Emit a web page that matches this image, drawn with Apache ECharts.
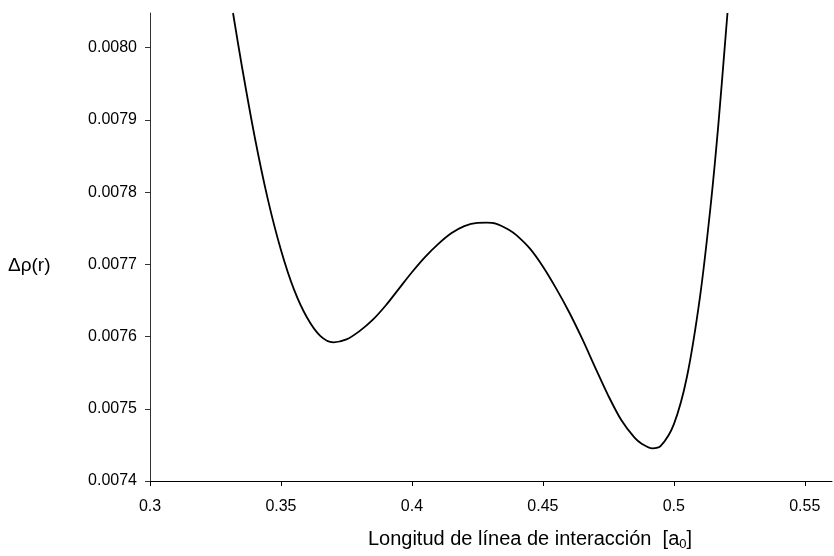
<!DOCTYPE html>
<html>
<head>
<meta charset="utf-8">
<script src="https://cdn.jsdelivr.net/npm/echarts@6/dist/echarts.min.js"></script>
<style>
html,body{margin:0;padding:0;background:#fff;}
#c{width:834px;height:556px;}
</style>
</head>
<body>
<div id="c"></div>
<script>
// Interaction-line length [a0]
const xValues = [0.3317, 0.335, 0.340, 0.345, 0.350, 0.355, 0.360, 0.365, 0.370, 0.375, 0.380, 0.385, 0.390, 0.395,
  0.400, 0.405, 0.410, 0.415, 0.420, 0.425, 0.4285, 0.432, 0.437, 0.440, 0.445, 0.450, 0.455, 0.460, 0.465, 0.470,
  0.475, 0.480, 0.485, 0.488, 0.4918, 0.495, 0.500, 0.505, 0.510, 0.514, 0.517, 0.520, 0.5205];
// Δρ(r)
const yValues = [0.008048, 0.007976, 0.007876, 0.007790, 0.007720, 0.007665, 0.007626, 0.007601, 0.007592, 0.007596, 0.0076075, 0.007623, 0.007643, 0.007666,
  0.007689, 0.007710, 0.007728, 0.007743, 0.007753, 0.0077575, 0.0077578, 0.0077565, 0.007748, 0.007740, 0.007722, 0.007697, 0.007667, 0.007634, 0.007597, 0.007557,
  0.007518, 0.007484, 0.007460, 0.007451, 0.0074452, 0.0074485, 0.0074785, 0.007544, 0.007655, 0.007779, 0.007893, 0.008026, 0.008048];
const xTickLabels = ['0.3', '0.35', '0.4', '0.45', '0.5', '0.55'];
const yTickLabels = ['0.0074', '0.0075', '0.0076', '0.0077', '0.0078', '0.0079', '0.0080'];

const FONT = '"Liberation Sans", Arial, sans-serif';
const points = xValues.map((x, i) => [x, yValues[i]]);

const chart = echarts.init(document.getElementById('c'), null, {renderer: 'canvas'});
chart.setOption({
  animation: false,
  backgroundColor: '#ffffff',
  grid: {left: 150, right: 2, top: 13, bottom: 74, containLabel: false},
  xAxis: {
    type: 'value',
    min: 0.3, max: 0.5604, interval: 0.05,
    splitLine: {show: false},
    axisLine: {show: true, onZero: false, lineStyle: {color: '#000', width: 1}},
    axisTick: {show: true, inside: false, length: 5, lineStyle: {color: '#000'}},
    axisLabel: {
      margin: 18, color: '#000', fontFamily: FONT, fontSize: 16,
      showMaxLabel: false,
      formatter: function (v) {
        const idx = Math.round((v - 0.3) / 0.05);
        return Math.abs(v - (0.3 + idx * 0.05)) < 1e-9 ? (xTickLabels[idx] || '') : '';
      }
    },
    name: '{n|Longitud de línea de interacción  [a}{s|0}{n|]}',
    nameLocation: 'middle',
    nameGap: 47,
    nameTextStyle: {
      align: 'center',
      padding: [0, 0, 0, 78],
      rich: {
        n: {fontFamily: FONT, fontSize: 20, color: '#000'},
        s: {fontFamily: FONT, fontSize: 13, color: '#000', verticalAlign: 'bottom', padding: [10, 0, 0, 0]}
      }
    }
  },
  yAxis: {
    type: 'value',
    min: 0.0074, max: 0.008048, interval: 0.0001,
    splitLine: {show: false},
    axisLine: {show: true, onZero: false, lineStyle: {color: '#333', width: 1}},
    axisTick: {show: true, inside: false, length: 5, lineStyle: {color: '#333'}},
    axisLabel: {
      margin: 13, color: '#000', fontFamily: FONT, fontSize: 16,
      showMaxLabel: false,
      formatter: function (v) {
        const idx = Math.round((v - 0.0074) / 0.0001);
        return Math.abs(v - (0.0074 + idx * 0.0001)) < 1e-9 ? (yTickLabels[idx] || '') : '';
      }
    }
  },
  graphic: [{
    type: 'text',
    left: 8, top: 256,
    style: {text: 'Δρ(r)', fontFamily: FONT, fontSize: 19, fill: '#000'}
  }],
  series: [{
    type: 'line',
    data: points,
    showSymbol: false,
    smooth: 0.3,
    clip: true,
    lineStyle: {color: '#000', width: 1.8}
  }]
});
</script>
</body>
</html>
